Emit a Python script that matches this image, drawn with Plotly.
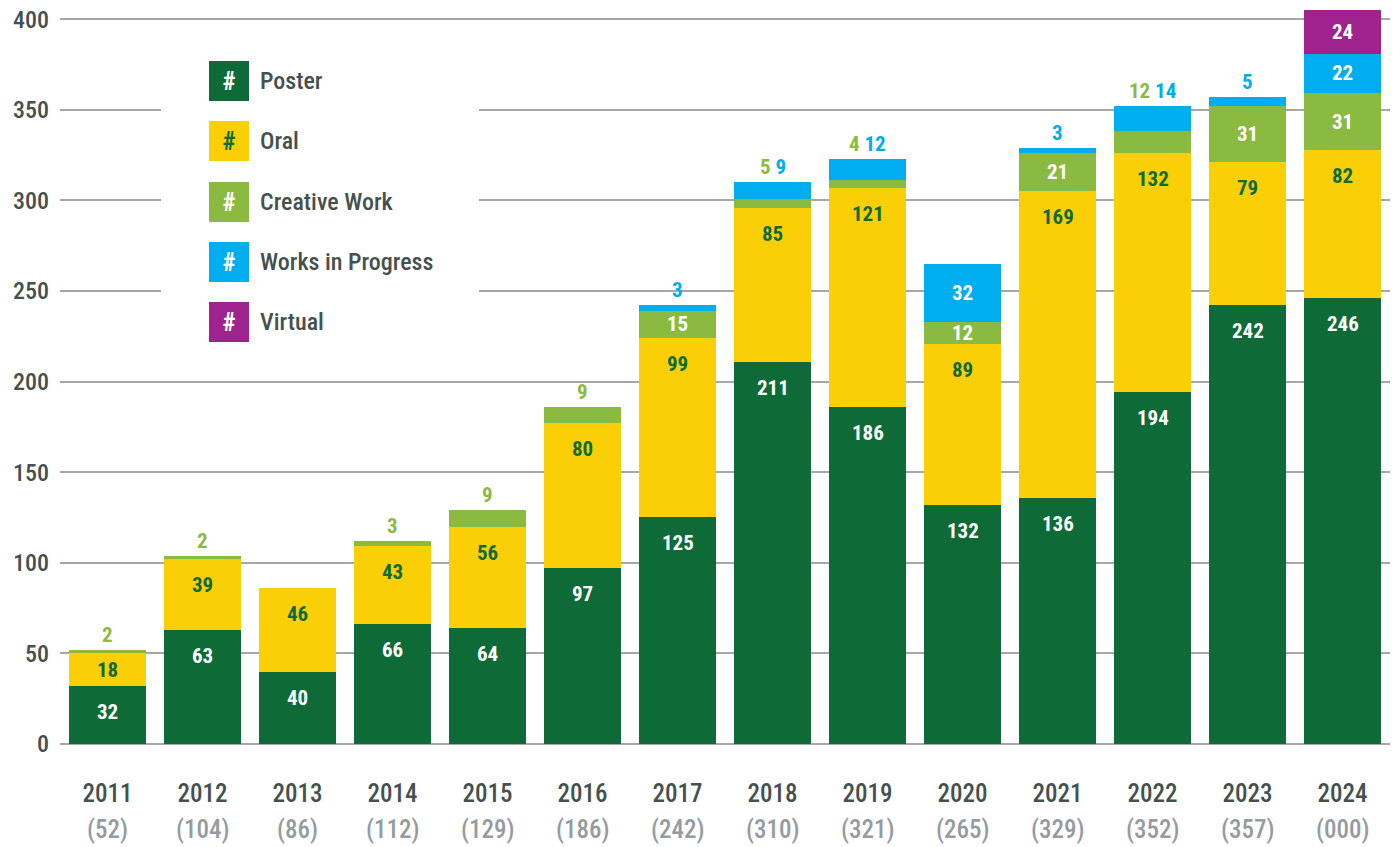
import plotly.graph_objects as go

years = ["2011", "2012", "2013", "2014", "2015", "2016", "2017", "2018", "2019", "2020", "2021", "2022", "2023", "2024"]
totals_label = ["52", "104", "86", "112", "129", "186", "242", "310", "321", "265", "329", "352", "357", "000"]
poster = [32, 63, 40, 66, 64, 97, 125, 211, 186, 132, 136, 194, 242, 246]
oral = [18, 39, 46, 43, 56, 80, 99, 85, 121, 89, 169, 132, 79, 82]
creative = [2, 2, 0, 3, 9, 9, 15, 5, 4, 12, 21, 12, 31, 31]
wip = [0, 0, 0, 0, 0, 0, 3, 9, 12, 32, 3, 14, 5, 22]
virtual = [0, 0, 0, 0, 0, 0, 0, 0, 0, 0, 0, 0, 0, 24]
# which small segments are labelled above the bar instead of inside
creative_outside = [1, 1, 0, 1, 1, 1, 0, 1, 1, 0, 0, 1, 0, 0]
wip_outside = [0, 0, 0, 0, 0, 0, 1, 1, 1, 0, 1, 1, 1, 0]

series_names = ["Poster", "Oral", "Creative Work", "Works in Progress", "Virtual"]
colors = ["#0e6b38", "#fbcf06", "#8bba41", "#00adee", "#a0228c"]
text_colors = ["#ffffff", "#0e6b38", "#ffffff", "#ffffff", "#ffffff"]

FONT = "Roboto Condensed, Roboto, sans-serif"
DARK = "#45514f"
LIGHT = "#959c9f"
GRID = "#a4a8aa"
Y_MAX = 410
PLOT_TOP, PLOT_BOTTOM, PLOT_LEFT, PLOT_W = 1, 744, 59.5, 1330
PX_PER_UNIT = (PLOT_BOTTOM - PLOT_TOP) / Y_MAX

fig = go.Figure()
series = [poster, oral, creative, wip, virtual]
outside_flags = [None, None, creative_outside, wip_outside, None]
top_labelled = [True, True, False, False, False]  # labels hang just under the segment top
for name, vals, col, tcol, flags, toplab in zip(series_names, series, colors, text_colors, outside_flags, top_labelled):
    texts = []
    for i, v in enumerate(vals):
        if v == 0 or toplab or (flags is not None and flags[i]):
            texts.append("")
        else:
            texts.append(str(v))
    fig.add_trace(go.Bar(
        x=years, y=vals, name=name, marker=dict(color=col, line=dict(width=0)),
        text=texts, textposition="inside", insidetextanchor="middle",
        constraintext="none", textangle=0,
        textfont=dict(family=FONT, size=21, color=tcol, weight="bold"),
        hoverinfo="x+y+name", showlegend=False,
    ))

# labels of poster / oral segments, placed a little below each segment top
for s_idx in (0, 1):
    for i in range(len(years)):
        base = sum(series[k][i] for k in range(s_idx))
        v = series[s_idx][i]
        top = base + v
        h_px = v * PX_PER_UNIT
        off = min(26, h_px / 2)
        fig.add_annotation(x=i, y=top, xref="x", yref="y", text=str(v), showarrow=False,
                           yanchor="middle", yshift=-off,
                           font=dict(family=FONT, size=21, color=text_colors[s_idx], weight="bold"))

# custom legend (white panel hides the gridlines behind it)
def px_y(p):
    return (PLOT_BOTTOM - p) / (PLOT_BOTTOM - PLOT_TOP)
def px_x(p):
    return (p - PLOT_LEFT) / PLOT_W

fig.add_annotation(x=px_x(160), y=px_y(40), xref="paper", yref="paper", text=" ",
                   showarrow=False, width=318, height=320, bgcolor="white", borderwidth=0,
                   borderpad=0, xanchor="left", yanchor="top")
hash_colors = ["#ffffff", "#0e6b38", "#ffffff", "#ffffff", "#ffffff"]
for k, name in enumerate(series_names):
    cy = 81 + 60.3 * k
    fig.add_annotation(x=px_x(228.5), y=px_y(cy), xref="paper", yref="paper", text="#",
                       showarrow=False, width=40, height=40, bgcolor=colors[k], borderwidth=0,
                       borderpad=0, xanchor="center", yanchor="middle",
                       font=dict(family=FONT, size=25, color=hash_colors[k], weight="bold"))
    fig.add_annotation(x=px_x(257), y=px_y(cy), xref="paper", yref="paper", text=name,
                       showarrow=False, xanchor="left", yanchor="middle",
                       font=dict(family=FONT, size=24, color=DARK, weight=500))

# outside labels above bars
for i, yr in enumerate(years):
    total = poster[i] + oral[i] + creative[i] + wip[i] + virtual[i]
    parts = []
    if creative_outside[i]:
        parts.append(f"<span style='color:{colors[2]}'>{creative[i]}</span>")
    if wip_outside[i]:
        parts.append(f"<span style='color:{colors[3]}'>{wip[i]}</span>")
    if parts:
        fig.add_annotation(x=i, y=total, xref="x", yref="y", text=" ".join(parts),
                           showarrow=False, yanchor="middle", yshift=15,
                           font=dict(family=FONT, size=21, weight="bold"))

# totals below year labels
for i, yr in enumerate(years):
    fig.add_annotation(x=i, y=0, xref="x", yref="paper", text=f"({totals_label[i]})",
                       showarrow=False, yanchor="middle", yshift=-85,
                       font=dict(family=FONT, size=25, color=LIGHT, weight=500))

fig.update_layout(
    width=1395, height=847,
    margin=dict(l=60, r=5, t=1, b=103),
    barmode="stack", bargap=0.19,
    plot_bgcolor="white", paper_bgcolor="white",
    font=dict(family=FONT, color=DARK),
)
fig.update_xaxes(type="category", range=[-0.5, 13.5], autorange=False, automargin=False,
                 tickmode="array", tickvals=years, ticktext=years, showgrid=False,
                 showline=False, ticks="", ticklabelstandoff=32,
                 tickfont=dict(family=FONT, size=25, color=DARK, weight=500))
fig.update_yaxes(range=[0, Y_MAX], autorange=False, automargin=False,
                 tickvals=[0, 50, 100, 150, 200, 250, 300, 350, 400],
                 showgrid=True, gridcolor=GRID, gridwidth=1.5, zeroline=True,
                 zerolinecolor=GRID, zerolinewidth=1.5, ticks="", ticklabelstandoff=10,
                 tickfont=dict(family=FONT, size=24, color=DARK, weight=500))

fig.write_html("out.html", config={"displayModeBar": False},
               post_script="document.body.style.margin='0';document.body.style.overflow='hidden';")
